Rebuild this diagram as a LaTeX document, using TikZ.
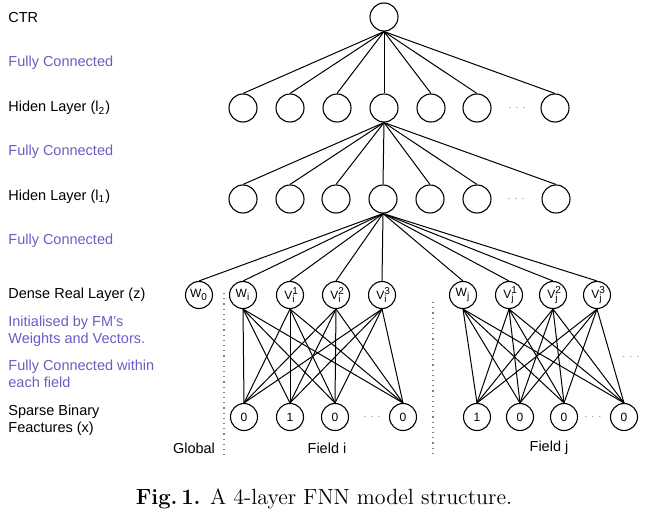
\documentclass[tikz,border=0pt]{standalone}
\usepackage{fontspec}
\setsansfont{Liberation Sans}
\definecolor{fcpurple}{RGB}{104,94,196}
\begin{document}
\begin{tikzpicture}[x=0.5pt,y=-0.5pt,
  lab/.style={anchor=west,inner sep=0pt,font=\sffamily\fontsize{7.25}{8.5}\selectfont,align=left},
  fc/.style={lab,text=fcpurple},
  hid/.style={circle,draw,line width=0.55pt,minimum size=14pt,inner sep=0pt},
  unit/.style={circle,draw,line width=0.55pt,minimum size=13.5pt,inner sep=0pt,font=\sffamily\fontsize{6}{7}\selectfont},
  conn/.style={line width=0.5pt},
  sep/.style={draw=gray,dotted,line width=0.6pt},
  dots/.style={text=gray,font=\fontsize{5}{6}\selectfont,inner sep=0pt},
  fieldlab/.style={inner sep=0pt,font=\sffamily\fontsize{7.25}{8.5}\selectfont}]
\useasboundingbox (0,0) rectangle (658,520);

% left labels
\node[lab] (lctr) at (8,18) {CTR};
\node[fc] (lfc1) at (8,63) {Fully Connected};
\node[lab] (lh2) at (8,108) {Hiden Layer (l\textsubscript{2})};
\node[fc] (lfc2) at (8,152) {Fully Connected};
\node[lab] (lh1) at (8,197) {Hiden Layer (l\textsubscript{1})};
\node[fc] (lfc3) at (8,241) {Fully Connected};
\node[lab] (ldense) at (8,295) {Dense Real Layer (z)};
\node[fc] (linit) at (8,331) {Initialised by FM's\\Weights and Vectors.};
\node[fc] (lfcw) at (8,374) {Fully Connected within\\each field};
\node[lab] (lsparse) at (8,420) {Sparse Binary\\Feactures (x)};

% top
\node[hid] (ctr) at (384,17) {};

% hidden layer 2
\foreach \i/\x in {1/243,2/290,3/337,4/384,5/431,6/477,7/555}
  \node[hid] (hb\i) at (\x,108) {};
\node[dots] (hbdots) at (517,108) {$\cdots$};

% hidden layer 1
\foreach \i/\x in {1/243,2/290,3/336,4/383,5/430,6/477,7/556}
  \node[hid] (ha\i) at (\x,199) {};
\node[dots] (hadots) at (516,199) {$\cdots$};

% dense layer
\node[unit] (w0)  at (199,295) {W\textsubscript{0}};
\node[unit] (wi)  at (243,295) {W\textsubscript{i}};
\node[unit] (vi1) at (290,295) {V\rlap{\textsuperscript{1}}\textsubscript{i}};
\node[unit] (vi2) at (336,295) {V\rlap{\textsuperscript{2}}\textsubscript{i}};
\node[unit] (vi3) at (382,295) {V\rlap{\textsuperscript{3}}\textsubscript{i}};
\node[unit] (wj)  at (463,295) {W\textsubscript{j}};
\node[unit] (vj1) at (509,295) {V\rlap{\textsuperscript{1}}\textsubscript{j}};
\node[unit] (vj2) at (553,295) {V\rlap{\textsuperscript{2}}\textsubscript{j}};
\node[unit] (vj3) at (597,295) {V\rlap{\textsuperscript{3}}\textsubscript{j}};

% sparse layer
\node[unit] (xi1) at (244,417) {0};
\node[unit] (xi2) at (290,417) {1};
\node[unit] (xi3) at (335,417) {0};
\node[unit] (xi4) at (403,417) {0};
\node[dots] (xidots) at (372,417) {$\cdots$};
\node[unit] (xj1) at (477,417) {1};
\node[unit] (xj2) at (520,417) {0};
\node[unit] (xj3) at (564,417) {0};
\node[unit] (xj4) at (624,417) {0};
\node[dots] (xjdots) at (593,417) {$\cdots$};
\node[dots] (moredots) at (631,357) {$\cdots$};

% separators
\coordinate (s1t) at (224,293);
\coordinate (s1b) at (224,458);
\coordinate (s2t) at (433,302);
\coordinate (s2b) at (433,458);
\draw[sep] (s1t) -- (s1b);
\draw[sep] (s2t) -- (s2b);

% field labels
\node[fieldlab] (gl) at (194,448) {Global};
\node[fieldlab] (fi) at (327,448) {Field i};
\node[fieldlab] (fj) at (549,448) {Field j};

% connections
\foreach \i in {1,...,7} \draw[conn] (ctr.south) -- (hb\i.north);
\foreach \i in {1,...,7} \draw[conn] (hb4.south) -- (ha\i.north);
\foreach \n in {w0,wi,vi1,vi2,vi3,wj,vj1,vj2,vj3} \draw[conn] (ha4.south) -- (\n.north);
\foreach \a in {wi,vi1,vi2,vi3}
  \foreach \b in {xi1,xi2,xi3,xi4}
    \draw[conn] (\a.south) -- (\b.north);
\foreach \a in {wj,vj1,vj2,vj3}
  \foreach \b in {xj1,xj2,xj3,xj4}
    \draw[conn] (\a.south) -- (\b.north);

% caption
\node[inner sep=0pt,font=\fontsize{11}{13}\selectfont] (cap) at (324,499) {\textbf{Fig.\,1.} A 4-layer FNN model structure.};
\end{tikzpicture}
\end{document}
